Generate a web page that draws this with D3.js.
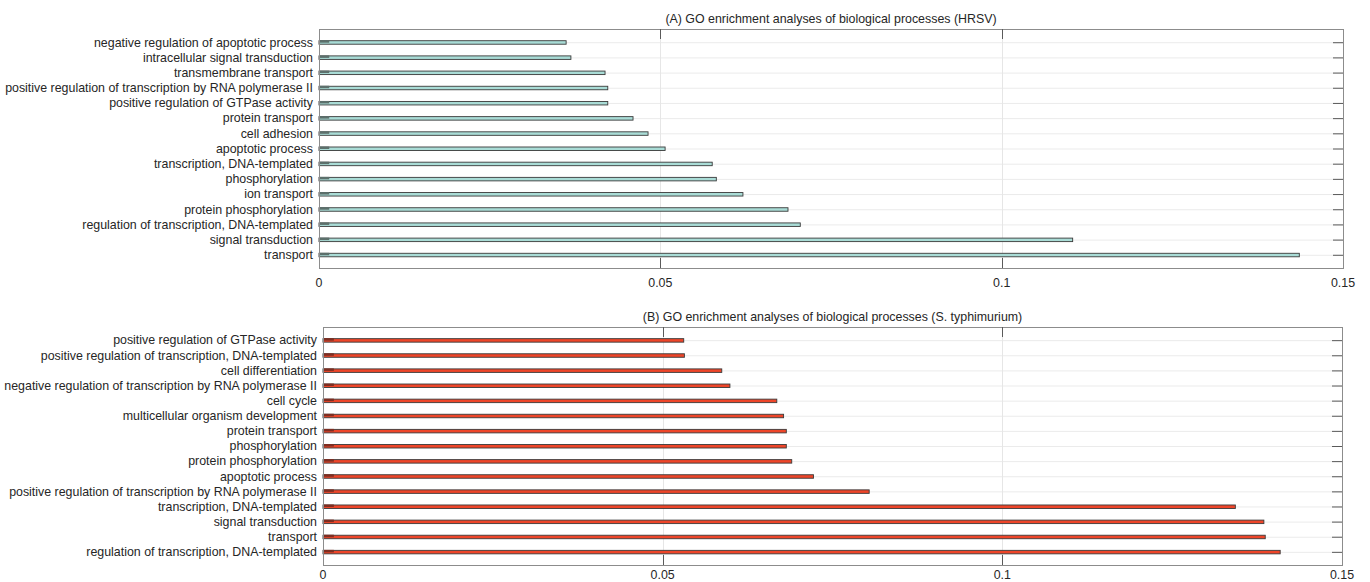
<!DOCTYPE html>
<html>
<head>
<meta charset="utf-8">
<script src="https://cdn.jsdelivr.net/npm/d3@7"></script>
<style>
  body { margin: 0; background: #fff; }
  svg text { font-family: "Liberation Sans", Arial, sans-serif; fill: #262626; }
</style>
</head>
<body>
<div id="chart"></div>
<script>
// panel A: HRSV (listed top to bottom)
var hrsvTerms = [
  "negative regulation of apoptotic process",
  "intracellular signal transduction",
  "transmembrane transport",
  "positive regulation of transcription by RNA polymerase II",
  "positive regulation of GTPase activity",
  "protein transport",
  "cell adhesion",
  "apoptotic process",
  "transcription, DNA-templated",
  "phosphorylation",
  "ion transport",
  "protein phosphorylation",
  "regulation of transcription, DNA-templated",
  "signal transduction",
  "transport"
];
var hrsvValues = [0.0362, 0.0369, 0.0419, 0.0423, 0.0423, 0.0460, 0.0482, 0.0507,
                  0.0576, 0.0582, 0.0621, 0.0687, 0.0705, 0.1104, 0.1436];
var hrsvStub = [0.0015, 0.0015, 0.0015, 0.0015, 0.0015, 0.0015, 0.0015, 0.0015,
                0.0015, 0.0015, 0.0015, 0.0015, 0.0015, 0.0015, 0.0015];

// panel B: S. typhimurium
var styTerms = [
  "positive regulation of GTPase activity",
  "positive regulation of transcription, DNA-templated",
  "cell differentiation",
  "negative regulation of transcription by RNA polymerase II",
  "cell cycle",
  "multicellular organism development",
  "protein transport",
  "phosphorylation",
  "protein phosphorylation",
  "apoptotic process",
  "positive regulation of transcription by RNA polymerase II",
  "transcription, DNA-templated",
  "signal transduction",
  "transport",
  "regulation of transcription, DNA-templated"
];
var styValues = [0.0531, 0.0532, 0.0587, 0.0599, 0.0668, 0.0678, 0.0682, 0.0682,
                 0.0690, 0.0722, 0.0804, 0.1343, 0.1385, 0.1387, 0.1409];
var styStub = [0.0016, 0.0016, 0.0016, 0.0016, 0.0016, 0.0016, 0.0016, 0.0016,
               0.0016, 0.0016, 0.0016, 0.0016, 0.0016, 0.0016, 0.0016];

var xTicks = [0, 0.05, 0.1, 0.15];
var xTickLabels = ["0", "0.05", "0.1", "0.15"];

var svg = d3.select("#chart").append("svg")
  .attr("width", 1370)
  .attr("height", 582);

function drawPanel(opt) {
  var x = d3.scaleLinear().domain([0, 0.15]).range([opt.left, opt.right]);
  var y = d3.scalePoint().domain(opt.terms).range([opt.top, opt.bottom]).padding(0.87);

  var g = svg.append("g");

  // grid
  g.selectAll(".hgrid").data(opt.terms).enter().append("line")
    .attr("x1", opt.left).attr("x2", opt.right)
    .attr("y1", function (d) { return y(d) + 0.5; })
    .attr("y2", function (d) { return y(d) + 0.5; })
    .attr("stroke", "#ebebeb").attr("stroke-width", 1);
  g.selectAll(".vgrid").data([0.05, 0.1]).enter().append("line")
    .attr("x1", function (d) { return Math.round(x(d)) + 0.5; })
    .attr("x2", function (d) { return Math.round(x(d)) + 0.5; })
    .attr("y1", opt.top).attr("y2", opt.bottom)
    .attr("stroke", "#e6e6e6").attr("stroke-width", 1);

  // main bars
  g.selectAll(".bar").data(opt.values).enter().append("rect")
    .attr("x", x(0))
    .attr("y", function (d, i) { return y(opt.terms[i]) - 1.5; })
    .attr("width", function (d) { return x(d) - x(0); })
    .attr("height", 3.5)
    .attr("fill", opt.fill)
    .attr("stroke", "#3a3a3a")
    .attr("stroke-width", 0.9);

  // small second-series stubs
  g.selectAll(".stub").data(opt.stub).enter().append("rect")
    .attr("x", x(0))
    .attr("y", function (d, i) { return y(opt.terms[i]) - 2; })
    .attr("width", function (d) { return x(d) - x(0); })
    .attr("height", 2.5)
    .attr("fill", opt.stubFill);

  // box
  g.append("rect")
    .attr("x", opt.left + 0.5).attr("y", opt.top + 0.5)
    .attr("width", opt.right - opt.left).attr("height", opt.bottom - opt.top)
    .attr("fill", "none").attr("stroke", "#8c8c8c").attr("stroke-width", 1);

  // inward ticks: right side per row, top/bottom at x ticks
  g.selectAll(".rtick").data(opt.terms).enter().append("line")
    .attr("x1", opt.right - 10).attr("x2", opt.right)
    .attr("y1", function (d) { return y(d) + 0.5; })
    .attr("y2", function (d) { return y(d) + 0.5; })
    .attr("stroke", "#5a5a5a");
  [0.05, 0.1].forEach(function (t) {
    var xx = Math.round(x(t)) + 0.5;
    g.append("line").attr("x1", xx).attr("x2", xx)
      .attr("y1", opt.top).attr("y2", opt.top + 10).attr("stroke", "#5a5a5a");
    g.append("line").attr("x1", xx).attr("x2", xx)
      .attr("y1", opt.bottom - 10).attr("y2", opt.bottom).attr("stroke", "#5a5a5a");
  });

  // category labels
  g.selectAll(".ylab").data(opt.terms).enter().append("text")
    .attr("x", opt.left - 6)
    .attr("y", function (d) { return y(d); })
    .attr("dy", "0.35em")
    .attr("text-anchor", "end")
    .attr("font-size", 12.4)
    .text(function (d) { return d; });

  // x tick labels
  g.selectAll(".xlab").data(xTicks).enter().append("text")
    .attr("x", function (d) { return x(d); })
    .attr("y", opt.bottom + opt.labelGap)
    .attr("dy", "0.35em")
    .attr("text-anchor", "middle")
    .attr("font-size", 12.4)
    .text(function (d, i) { return xTickLabels[i]; });

  // title
  g.append("text")
    .attr("x", (opt.left + opt.right) / 2)
    .attr("y", opt.top - 10)
    .attr("dy", "0.35em")
    .attr("text-anchor", "middle")
    .attr("font-size", 12.4)
    .text(opt.title);
}

drawPanel({
  title: "(A) GO enrichment analyses of biological processes (HRSV)",
  terms: hrsvTerms, values: hrsvValues, stub: hrsvStub,
  left: 319, right: 1343, top: 29, bottom: 268, labelGap: 15,
  fill: "#a9dcd6", stubFill: "#5c706c"
});

drawPanel({
  title: "(B) GO enrichment analyses of biological processes (S. typhimurium)",
  terms: styTerms, values: styValues, stub: styStub,
  left: 323, right: 1342, top: 327, bottom: 565, labelGap: 10,
  fill: "#ee4529", stubFill: "#7e2e22"
});
</script>
</body>
</html>
